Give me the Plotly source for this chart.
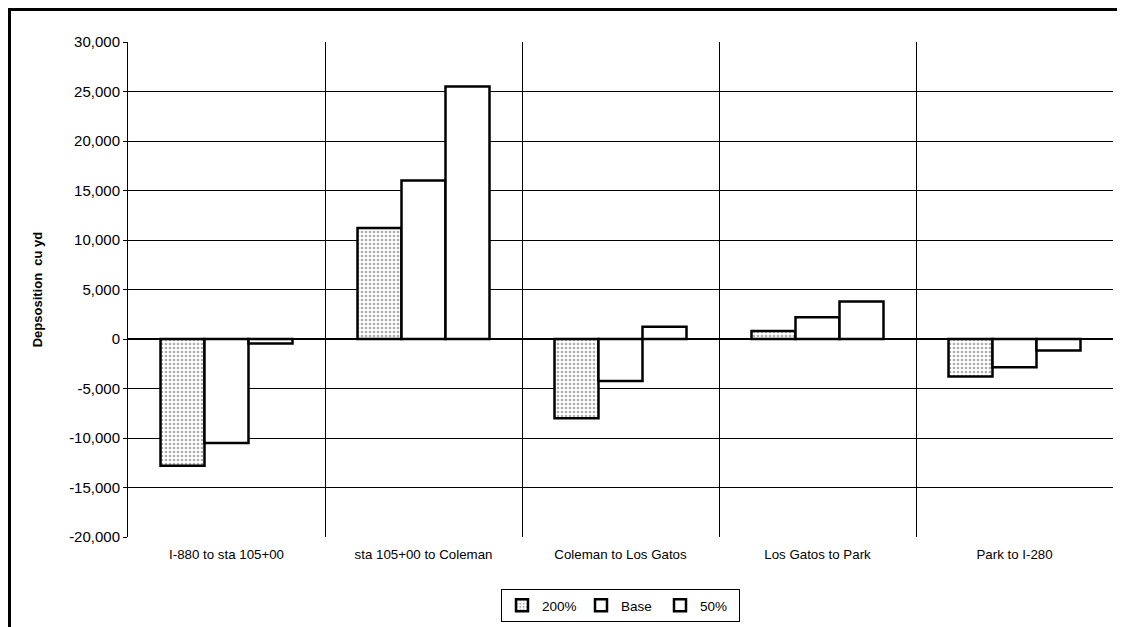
import plotly.graph_objects as go

categories = ["I-880 to sta 105+00", "sta 105+00 to Coleman", "Coleman to Los Gatos",
              "Los Gatos to Park", "Park to I-280"]
series_names = ["200%", "Base", "50%"]
vals_200 = [-12800, 11200, -8000, 800, -3800]
vals_base = [-10500, 16000, -4250, 2200, -2850]
vals_50 = [-450, 25500, 1250, 3800, -1150]

y_ticks = list(range(-20000, 30001, 5000))
y_tick_text = [f"{v:,}" for v in y_ticks]

fig = go.Figure()
fig.add_trace(go.Bar(
    x=categories, y=vals_200, name=series_names[0],
    marker=dict(color="white", line=dict(color="black", width=2.5),
                pattern=dict(shape=".", fgcolor="#5a5a5a", bgcolor="white",
                             size=4, solidity=0.35)),
))
fig.add_trace(go.Bar(
    x=categories, y=vals_base, name=series_names[1],
    marker=dict(color="white", line=dict(color="black", width=2.5)),
))
fig.add_trace(go.Bar(
    x=categories, y=vals_50, name=series_names[2],
    marker=dict(color="white", line=dict(color="black", width=2.5)),
))

fig.update_layout(
    width=1125, height=627,
    paper_bgcolor="white", plot_bgcolor="white",
    margin=dict(l=120, r=20, t=34, b=98),
    barmode="group", bargap=0.33, bargroupgap=0,
    font=dict(family="Liberation Sans, Arial, sans-serif", color="black", size=13),
    showlegend=True,
    legend=dict(orientation="h", x=0.5, xanchor="center", y=-0.105, yanchor="top",
                bordercolor="black", borderwidth=1, font=dict(size=13.5),
                itemwidth=30, entrywidth=34, entrywidthmode="pixels",
                traceorder="normal", tracegroupgap=0),
    xaxis=dict(
        tickson="boundaries", showgrid=True, gridcolor="black", gridwidth=1,
        ticks="", tickfont=dict(size=13.3), showline=False, zeroline=False,
        automargin=False, ticklabelstandoff=8,
    ),
    yaxis=dict(
        range=[-20000, 30000], tickvals=y_ticks, ticktext=y_tick_text,
        showgrid=True, gridcolor="black", gridwidth=1,
        zeroline=True, zerolinecolor="black", zerolinewidth=1.5,
        showline=True, linecolor="black", linewidth=1,
        ticks="outside", ticklen=4, tickcolor="black",
        tickfont=dict(size=15), automargin=False,
        title=dict(text="<b>Depsosition  cu yd</b>", font=dict(size=13), standoff=23),
    ),
    shapes=[
        dict(type="line", xref="paper", yref="paper", x0=-0.1218, x1=1.03, y0=1.0657, y1=1.0657,
             line=dict(color="black", width=3)),
        dict(type="line", xref="paper", yref="paper", x0=-0.1203, x1=-0.1203, y0=1.0657, y1=-0.2,
             line=dict(color="black", width=3)),
    ],
)

fig.write_html("out.html")
